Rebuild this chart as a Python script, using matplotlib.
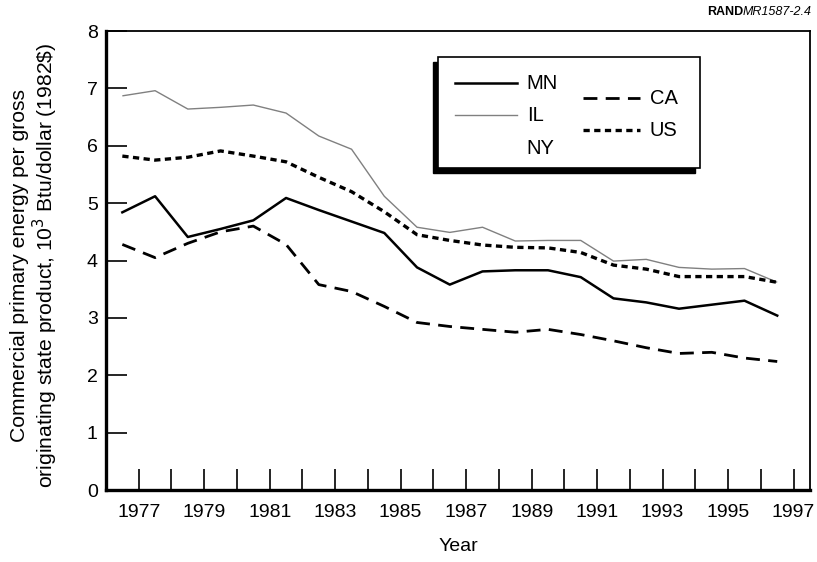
import numpy as np
import matplotlib
matplotlib.use("Agg")
import matplotlib.pyplot as plt
from matplotlib.lines import Line2D
from matplotlib.patches import Rectangle

plt.rcParams['font.family'] = ['Liberation Sans', 'DejaVu Sans']
plt.rcParams['lines.scale_dashes'] = False

years = list(range(1977, 1998))
mn = [4.84, 5.12, 4.41, 4.55, 4.70, 5.09, 4.88, 4.68, 4.48, 3.88, 3.58,
      3.81, 3.83, 3.83, 3.71, 3.34, 3.27, 3.16, 3.23, 3.30, 3.04]
il = [6.87, 6.96, 6.64, 6.67, 6.71, 6.57, 6.17, 5.94, 5.12, 4.58, 4.49,
      4.58, 4.34, 4.35, 4.35, 3.99, 4.02, 3.88, 3.85, 3.86, 3.62]
ca = [4.28, 4.05, 4.30, 4.50, 4.60, 4.28, 3.58, 3.46, 3.20, 2.92, 2.85,
      2.80, 2.75, 2.80, 2.71, 2.60, 2.48, 2.38, 2.40, 2.30, 2.24]
us = [5.82, 5.75, 5.80, 5.91, 5.82, 5.72, 5.45, 5.20, 4.85, 4.45, 4.35,
      4.27, 4.23, 4.22, 4.14, 3.92, 3.85, 3.72, 3.72, 3.72, 3.62]
xticks = list(range(1977, 1998))
xticklabels = [str(y) if y % 2 == 1 else "" for y in xticks]
yticks = list(range(0, 9))

fig = plt.figure(figsize=(8.17, 5.62), dpi=100)
ax = fig.add_axes([0.1297, 0.1281, 0.8617, 0.8167])

xs = np.array(years) - 0.5
ax.plot(xs, il, color='0.5', lw=1.0, solid_capstyle='butt')
ax.plot(xs, us, color='black', lw=2.4, linestyle=(0, (4.5, 3.2)))
ax.plot(xs, ca, color='black', lw=2.0, linestyle=(0, (10, 6)))
ax.plot(xs, mn, color='black', lw=1.8)

ax.set_xlim(1976, 1997.5)
ax.set_ylim(0, 8)
ax.set_xticks(xticks)
ax.set_xticklabels(xticklabels, fontsize=14)
ax.set_yticks(yticks)
ax.set_yticklabels([str(v) for v in yticks], fontsize=14)
ax.tick_params(axis='x', direction='in', length=15, width=1.2, pad=10)
ax.tick_params(axis='y', direction='in', length=15, width=1.2, pad=6)
ax.spines['left'].set_linewidth(2.4)
ax.spines['bottom'].set_linewidth(2.4)
ax.spines['top'].set_linewidth(1.3)
ax.spines['right'].set_linewidth(1.3)

ax.set_xlabel("Year", fontsize=14, labelpad=12)
ax.set_ylabel("Commercial primary energy per gross\n"
              "originating state product, 10$^3$ Btu/dollar (1982\\$)",
              fontsize=15.2, linespacing=1.1, va='center')
ax.yaxis.set_label_coords(-0.1009, 0.49)

# legend box with shadow
bx0, bx1, by0, by1 = 0.4716, 0.8438, 0.7015, 0.9434
ax.add_patch(Rectangle((bx0 - 0.0071, by0 - 0.0109), bx1 - bx0, by1 - by0,
                       transform=ax.transAxes, facecolor='black',
                       edgecolor='black', zorder=5))
ax.add_patch(Rectangle((bx0, by0), bx1 - bx0, by1 - by0,
                       transform=ax.transAxes, facecolor='white',
                       edgecolor='black', lw=1.2, zorder=6))
leg_items = [
    ("MN", 0.4957, 0.5838, 0.8867, dict(color='black', lw=1.8)),
    ("IL", 0.4957, 0.5838, 0.817, dict(color='0.5', lw=1.0)),
    ("NY", 0.4957, 0.5838, 0.745, None),
    ("CA", 0.6776, 0.7585, 0.854, dict(color='black', lw=2.0, linestyle=(0, (10, 6)))),
    ("US", 0.6776, 0.7585, 0.784, dict(color='black', lw=2.4, linestyle=(0, (4.5, 3.2)))),
]
for name, x0, x1, yy, style in leg_items:
    if style is not None:
        ax.add_line(Line2D([x0, x1], [yy, yy], transform=ax.transAxes,
                           zorder=7, **style))
    ax.text(x1 + 0.014, yy, name, transform=ax.transAxes, fontsize=14.5,
            va='center', ha='left', zorder=7)

t2 = fig.text(0.994, 0.978, "MR1587-2.4", ha='right', va='center',
              fontsize=9, style='italic')
fig.canvas.draw()
bb = t2.get_window_extent(fig.canvas.get_renderer())
fig.text(bb.x0 / fig.bbox.width, 0.978, "RAND", ha='right', va='center',
         fontsize=9, fontweight='bold')

fig.savefig("out.png", dpi=100)
